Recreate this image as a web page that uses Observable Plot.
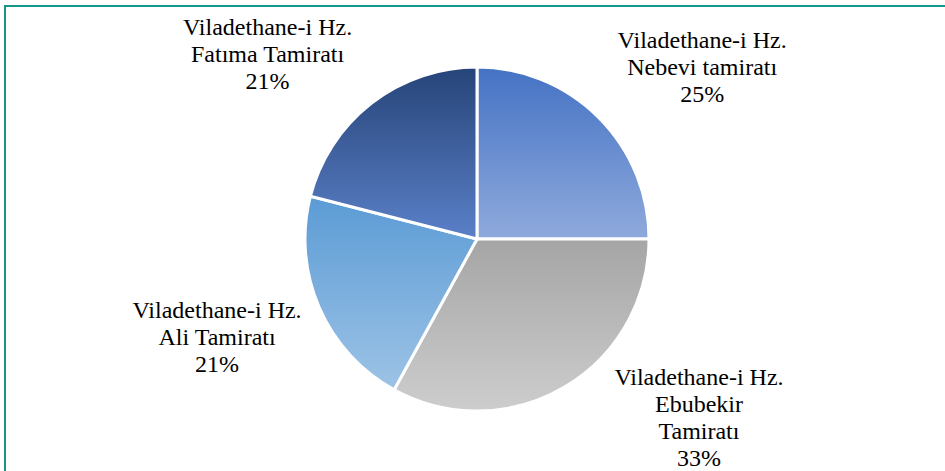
<!DOCTYPE html>
<html>
<head>
<meta charset="utf-8">
<script src="https://cdn.jsdelivr.net/npm/d3@7"></script>
<script src="https://cdn.jsdelivr.net/npm/@observablehq/plot@0.6"></script>
<style>
  body { margin: 0; background: #fff; }
  #wrap { position: relative; width: 945px; height: 471px; overflow: hidden; }
  #frame { position: absolute; left: 4px; top: 5px; width: 980px; height: 500px;
           border-top: 2px solid #13978b; border-left: 2px solid #13978b; }
  #chart { position: absolute; left: 0; top: 0; }
  #chart svg, #chart svg text { font-family: "Liberation Serif", serif !important; }
</style>
</head>
<body>
<div id="wrap"><div id="frame"></div><div id="chart"></div></div>
<script>
// ---- data ----
const categories = [
  "Viladethane-i Hz. Nebevi tamiratı",
  "Viladethane-i Hz. Ebubekir Tamiratı",
  "Viladethane-i Hz. Ali Tamiratı",
  "Viladethane-i Hz. Fatıma Tamiratı"
];
const labelLines = [
  ["Viladethane-i Hz.", "Nebevi tamiratı"],
  ["Viladethane-i Hz.", "Ebubekir", "Tamiratı"],
  ["Viladethane-i Hz.", "Ali Tamiratı"],
  ["Viladethane-i Hz.", "Fatıma Tamiratı"]
];
const values = [25, 33, 21, 21];
const percentLabels = ["25%", "33%", "21%", "21%"];

// ---- styles ----
const gradTop    = ["#4472c4", "#a5a5a5", "#5b9bd5", "#264478"];
const gradBottom = ["#8faadc", "#cdcdcd", "#9dc3e6", "#5b80c8"];

const W = 945, H = 471;
const CX = 477, CY = 239, R = 172;      // layout of the pie in pixels
const FS = 24, LH = 27;                 // font size / line height
const FONT = "Liberation Serif";

const arcs = d3.pie().sort(null).value(d => d)(values);

// measure text widths
const ctx = document.createElement("canvas").getContext("2d");
ctx.font = `${FS}px "Liberation Serif"`;

// label placement (Excel-like "best fit": outside, pushed clear of the pie)
const labels = arcs.map((a, i) => {
  const lines = labelLines[i].concat(percentLabels[i]);
  const mid = (a.startAngle + a.endAngle) / 2;
  const s = Math.sin(mid), c = Math.cos(mid);
  let px = CX + 1.65 * R * s;
  let py = CY - 1.42 * R * c;
  const w = d3.max(lines, l => ctx.measureText(l).width);
  const h = lines.length * LH;
  if (py + h / 2 > H - 1) py = H - 1 - h / 2;
  if (py - h / 2 < 12) py = 12 + h / 2;
  const clear = R + (c > 0 ? 20 : 12);
  const dist = () => {
    const nx = Math.max(px - w / 2, Math.min(CX, px + w / 2));
    const ny = Math.max(py - h / 2, Math.min(CY, py + h / 2));
    return Math.hypot(nx - CX, ny - CY);
  };
  let guard = 0;
  while (dist() < clear && guard++ < 400) px += s >= 0 ? 1 : -1;
  return {category: categories[i], text: lines.join("\n"), x: (px - CX) / R, y: (CY - py) / R};
});

const slices = arcs.map((a, i) => ({category: categories[i], value: values[i], startAngle: a.startAngle, endAngle: a.endAngle, i}));

// pie slices drawn through the plot's x/y scales
function pieSlices(data) {
  return (index, scales) => {
    const x = scales.x, y = scales.y;
    const cx = x(0), cy = y(0), r = x(1) - x(0);
    const g = d3.create("svg:g");
    const defs = g.append("defs");
    data.forEach(d => {
      const lg = defs.append("linearGradient").attr("id", "grad" + d.i)
        .attr("x1", 0).attr("y1", 0).attr("x2", 0).attr("y2", 1);
      lg.append("stop").attr("offset", "0%").attr("stop-color", gradTop[d.i]);
      lg.append("stop").attr("offset", "100%").attr("stop-color", gradBottom[d.i]);
    });
    const arc = d3.arc().innerRadius(0).outerRadius(r);
    g.append("g").attr("transform", `translate(${cx},${cy})`)
      .selectAll("path").data(data).join("path")
      .attr("d", d => arc(d))
      .attr("fill", d => `url(#grad${d.i})`)
      .attr("stroke", "#fff")
      .attr("stroke-width", 3)
      .attr("stroke-linejoin", "miter");
    return g.node();
  };
}

const chart = Plot.plot({
  width: W,
  height: H,
  margin: 0,
  style: {background: "transparent", fontFamily: FONT, overflow: "visible"},
  x: {type: "linear", domain: [-CX / R, (W - CX) / R], axis: null},
  y: {type: "linear", domain: [-(H - CY) / R, CY / R], axis: null},
  marks: [
    pieSlices(slices),
    Plot.text(labels, {
      x: "x", y: "y", text: "text",
      fontSize: FS, lineHeight: LH / FS,
      fontFamily: FONT, fill: "#000",
      textAnchor: "middle", lineAnchor: "middle"
    })
  ]
});
document.getElementById("chart").append(chart);
</script>
</body>
</html>
